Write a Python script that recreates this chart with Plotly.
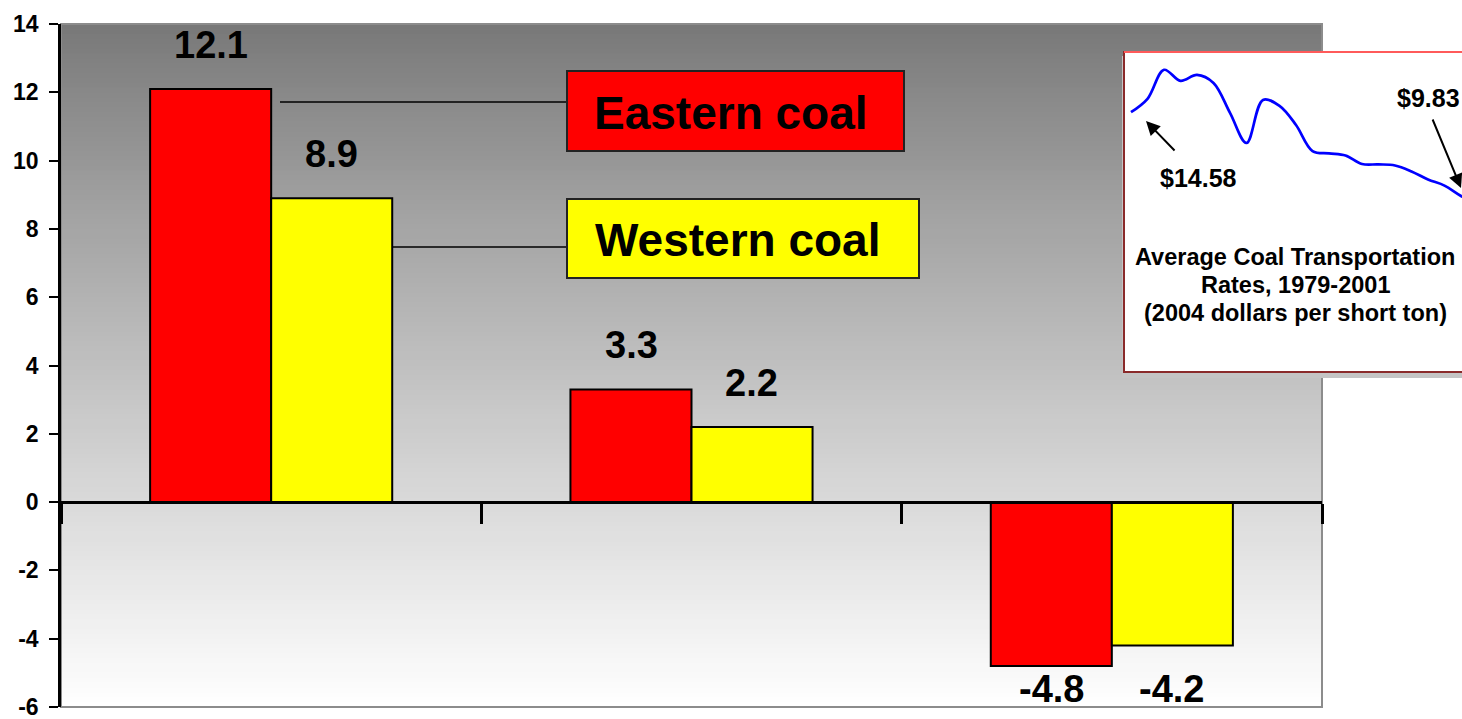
import plotly.graph_objects as go

# ---------------- data ----------------
categories = ["Period 1", "Period 2", "Period 3"]
eastern = [12.1, 3.3, -4.8]
western = [8.9, 2.2, -4.2]
series_names = ["Eastern coal", "Western coal"]

inset_years = list(range(1979, 2002))
inset_rates = [14.58, 15.21, 16.58, 16.06, 16.34, 15.96, 14.55, 13.13, 15.16, 14.88,
               13.98, 12.75, 12.64, 12.54, 12.14, 12.12, 12.07, 11.79, 11.41, 11.12,
               10.63, 10.21, 9.83]
inset_title = ["Average Coal Transportation", "Rates, 1979-2001", "(2004 dollars per short ton)"]
inset_first_label = "$14.58"
inset_last_label = "$9.83"

y_ticks = list(range(-6, 15, 2))

# ---------------- geometry helpers ----------------
W, H = 1462, 719
def px(x):
    return x / W
def py(y):
    return 1 - y / H

FONT = "Liberation Sans, Arial, sans-serif"
x_dom = [px(61), px(1322)]
y_dom = [py(707), py(24)]
y_min, y_max = -6, 14
zero_pos = y_dom[0] + (0 - y_min) / (y_max - y_min) * (y_dom[1] - y_dom[0])
unit_px = (707 - 24) / (y_max - y_min)

fig = go.Figure()

fig.add_trace(go.Bar(
    x=categories, y=eastern, name=series_names[0],
    marker=dict(color="#ff0000", line=dict(color="black", width=2)),
    xaxis="x", yaxis="y", showlegend=False))
fig.add_trace(go.Bar(
    x=categories, y=western, name=series_names[1],
    marker=dict(color="#ffff00", line=dict(color="black", width=2)),
    xaxis="x", yaxis="y", showlegend=False))

# inset line
fig.add_trace(go.Scatter(
    x=inset_years, y=inset_rates, mode="lines",
    line=dict(color="#0000ff", width=2.7, shape="spline", smoothing=1.0),
    xaxis="x2", yaxis="y2", showlegend=False, hoverinfo="x+y"))

shapes = []
# gradient background (each strip runs to the bottom so no seams show)
N = 140
top, bot = 24, 707
for i in range(N):
    y0 = top + (bot - top) * i / N
    f = (i + 0.5) / N
    g = int(round(119 + (255 - 119) * f ** 0.9))
    c = f"rgb({g},{g},{g})"
    shapes.append(dict(type="rect", xref="paper", yref="paper",
                       x0=x_dom[0], x1=x_dom[1], y0=py(bot), y1=py(y0),
                       fillcolor=c, line=dict(width=0), layer="below"))
# plot area border
shapes.append(dict(type="rect", xref="paper", yref="paper",
                   x0=x_dom[0], x1=x_dom[1], y0=y_dom[0], y1=y_dom[1],
                   line=dict(color="#8c8c8c", width=2), layer="below"))
# inset shadow + box
shapes.append(dict(type="rect", xref="paper", yref="paper",
                   x0=px(1122), x1=px(1470), y0=py(378), y1=py(56),
                   fillcolor="#c4c4c4", line=dict(width=0), layer="below"))
shapes.append(dict(type="rect", xref="paper", yref="paper",
                   x0=px(1124), x1=px(1470), y0=py(372), y1=py(52),
                   fillcolor="white", line=dict(color="#8a2a2a", width=2), layer="below"))
shapes.append(dict(type="line", xref="paper", yref="paper",
                   x0=px(1124), x1=px(1470), y0=py(52), y1=py(52),
                   line=dict(color="#ff5a5a", width=2), layer="below"))
# leader lines
shapes.append(dict(type="line", xref="paper", yref="paper",
                   x0=px(280), x1=px(567), y0=py(102), y1=py(102),
                   line=dict(color="black", width=1.5), layer="above"))
shapes.append(dict(type="line", xref="paper", yref="paper",
                   x0=px(392), x1=px(567), y0=py(247), y1=py(247),
                   line=dict(color="black", width=1.5), layer="above"))
# label boxes
shapes.append(dict(type="rect", xref="paper", yref="paper",
                   x0=px(567), x1=px(904), y0=py(151), y1=py(71),
                   fillcolor="#ff0000", line=dict(color="#222222", width=2), layer="above"))
shapes.append(dict(type="rect", xref="paper", yref="paper",
                   x0=px(567), x1=px(919), y0=py(278), y1=py(199),
                   fillcolor="#ffff00", line=dict(color="#222222", width=2), layer="above"))

annotations = []
def text_ann(x, y, text, size, **kw):
    d = dict(x=x, y=y, xref="paper", yref="paper", text=text, showarrow=False,
             xanchor="center", yanchor="middle",
             font=dict(family=FONT, size=size, color="black", weight="bold"))
    d.update(kw)
    return d

# label box texts
annotations.append(text_ann(px(731), py(113), series_names[0], 46))
annotations.append(text_ann(px(737), py(240), series_names[1], 46))

# value labels
label_off = 44 / unit_px
lowest = (503 - 690) / unit_px
for vals, shift in ((eastern, -60), (western, 60)):
    for cat, v in zip(categories, vals):
        if v >= 0:
            yy = v + label_off
        else:
            yy = max(v - label_off, lowest)
        annotations.append(dict(x=cat, y=yy, xref="x", yref="y", xshift=shift,
                                xanchor="center", yanchor="middle",
                                text=f"{v:.1f}", showarrow=False,
                                font=dict(family=FONT, size=38, color="black", weight="bold")))

# inset texts
annotations.append(text_ann(px(1198), py(178), inset_first_label, 25))
annotations.append(text_ann(px(1428), py(98), inset_last_label, 25))
annotations.append(dict(x=px(1146), y=py(121), xref="paper", yref="paper", text="",
                        showarrow=True, ax=30, ay=31, arrowhead=2, arrowsize=1.4,
                        arrowwidth=2, arrowcolor="black"))
annotations.append(dict(x=px(1467), y=py(188), xref="paper", yref="paper", text="",
                        showarrow=True, ax=-35, ay=-70, arrowhead=2, arrowsize=1.4,
                        arrowwidth=2, arrowcolor="black"))
for txt, yy in zip(inset_title, (257, 285, 313)):
    annotations.append(text_ann(px(1295), py(yy), txt, 23.5))

x2_lo = 1979 + (1124 - 1131) / 16.5
x2_hi = 1979 + (1462 - 1131) / 16.5

fig.update_layout(
    template="none",
    width=W, height=H,
    margin=dict(l=0, r=0, t=0, b=0, pad=0, autoexpand=False),
    paper_bgcolor="white", plot_bgcolor="rgba(0,0,0,0)",
    barmode="group", bargap=0.424, bargroupgap=0,
    showlegend=False,
    shapes=shapes, annotations=annotations,
    xaxis=dict(domain=x_dom, anchor="free", position=zero_pos,
               type="category", range=[-0.5, 2.5], automargin=False,
               showticklabels=False, tickson="boundaries",
               ticks="outside", ticklen=20, tickwidth=2.5, tickcolor="black",
               showline=True, linecolor="black", linewidth=2.5,
               showgrid=False, zeroline=False),
    yaxis=dict(domain=y_dom, range=[y_min, y_max], tickvals=y_ticks,
               ticktext=[str(t) for t in y_ticks], automargin=False,
               ticklabeloverflow="allow",
               ticks="outside", ticklen=9, tickwidth=2, tickcolor="black",
               showline=True, linecolor="black", linewidth=2.5,
               showgrid=False, zeroline=False, ticklabelstandoff=6,
               tickfont=dict(family=FONT, size=23, color="black", weight="bold")),
    xaxis2=dict(domain=[px(1124), 1.0], range=[x2_lo, x2_hi], visible=False,
                anchor="y2", automargin=False),
    yaxis2=dict(domain=[py(372), py(52)], range=[2.33, 17.42], visible=False,
                anchor="x2", automargin=False),
)

fig.write_html("out.html", config={"displayModeBar": False},
               post_script="document.body.style.margin='0';document.body.style.overflow='hidden';")
